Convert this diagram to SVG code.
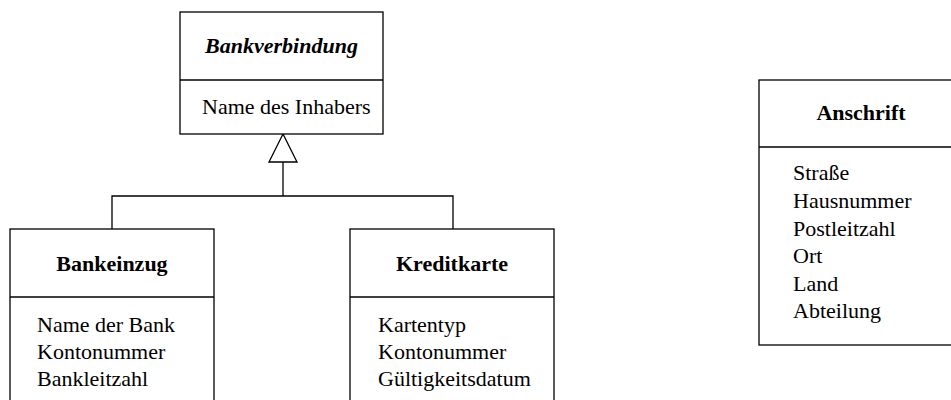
<svg xmlns="http://www.w3.org/2000/svg" width="951" height="400" viewBox="0 0 951 400">
  <style>
    .box { fill: #fff; stroke: #000; stroke-width: 1.3; }
    .sep { stroke: #000; stroke-width: 1.3; }
    .edge { fill: none; stroke: #000; stroke-width: 1.3; }
    text { font-family: "Liberation Serif", "Times New Roman", serif; font-size: 22px; fill: #000; }
    .title { font-weight: bold; text-anchor: middle; }
    .abstract { font-style: italic; }
  </style>

  <!-- generalization connectors -->
  <g id="connectors">
    <polyline class="edge" points="112,229 112,196 453,196 453,229"/>
    <line class="edge" x1="283" y1="196" x2="283" y2="162"/>
    <polygon class="edge" points="283,134 269,162 297,162" fill="#fff"/>
  </g>

  <g id="bankverbindung">
    <rect class="box" x="180" y="12" width="203" height="122"/>
    <line class="sep" x1="180" y1="80" x2="383" y2="80"/>
    <text class="title abstract" x="281.5" y="53">Bankverbindung</text>
    <text x="202" y="114">Name des Inhabers</text>
  </g>

  <g id="bankeinzug">
    <rect class="box" x="10" y="229" width="204" height="190"/>
    <line class="sep" x1="10" y1="297" x2="214" y2="297"/>
    <text class="title" x="112" y="271">Bankeinzug</text>
    <text x="37" y="332">Name der Bank</text>
    <text x="37" y="359">Kontonummer</text>
    <text x="37" y="386">Bankleitzahl</text>
  </g>

  <g id="kreditkarte">
    <rect class="box" x="350" y="229" width="204" height="190"/>
    <line class="sep" x1="350" y1="297" x2="554" y2="297"/>
    <text class="title" x="452" y="271">Kreditkarte</text>
    <text x="378" y="332">Kartentyp</text>
    <text x="378" y="359">Kontonummer</text>
    <text x="378" y="386">Gültigkeitsdatum</text>
  </g>

  <g id="anschrift">
    <rect class="box" x="759" y="80" width="204" height="265"/>
    <line class="sep" x1="759" y1="147" x2="963" y2="147"/>
    <text class="title" x="861" y="120">Anschrift</text>
    <text x="793" y="180">Straße</text>
    <text x="793" y="208">Hausnummer</text>
    <text x="793" y="236">Postleitzahl</text>
    <text x="793" y="263">Ort</text>
    <text x="793" y="291">Land</text>
    <text x="793" y="318">Abteilung</text>
  </g>
</svg>
